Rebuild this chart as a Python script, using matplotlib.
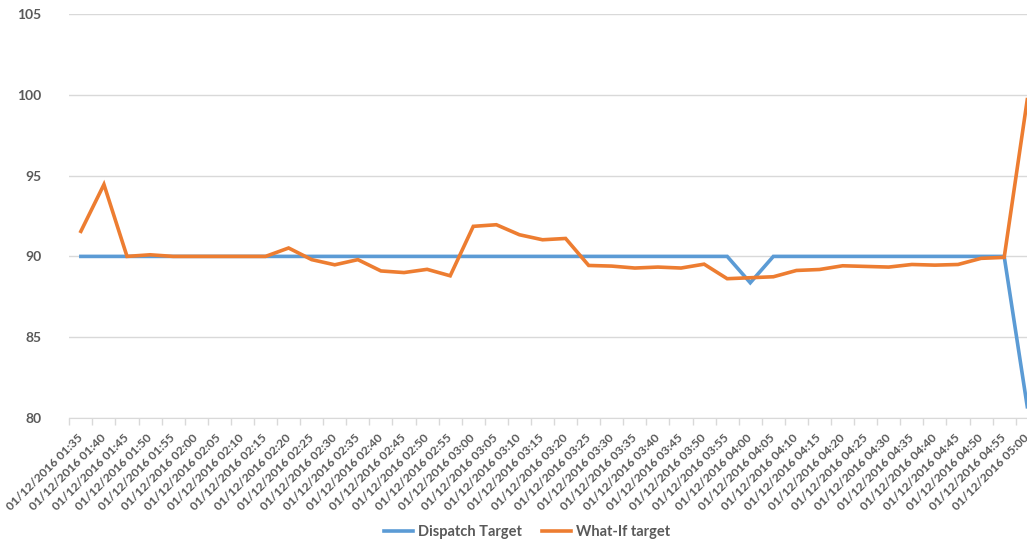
import matplotlib
matplotlib.use("Agg")
import matplotlib.pyplot as plt
import numpy as np

# time stamps (5 min steps)
times = ["01:35", "01:40", "01:45", "01:50", "01:55", "02:00", "02:05", "02:10",
         "02:15", "02:20", "02:25", "02:30", "02:35", "02:40", "02:45", "02:50",
         "02:55", "03:00", "03:05", "03:10", "03:15", "03:20", "03:25", "03:30",
         "03:35", "03:40", "03:45", "03:50", "03:55", "04:00", "04:05", "04:10",
         "04:15", "04:20", "04:25", "04:30", "04:35", "04:40", "04:45", "04:50",
         "04:55", "05:00"]
tick_labels = ["01/12/2016 " + t for t in times]

dispatch_target = [90, 90, 90, 90, 90, 90, 90, 90, 90, 90, 90, 90, 90, 90,
                   90, 90, 90, 90, 90, 90, 90, 90, 90, 90, 90, 90, 90, 90,
                   90, 88.37, 90, 90, 90, 90, 90, 90, 90, 90, 90, 90, 90, 80.7]
whatif_target = [91.55, 94.45, 90.0, 90.1, 90.0, 90.0, 90.0, 90.0, 90.0, 90.52,
                 89.8, 89.48, 89.8, 89.1, 89.0, 89.2, 88.8, 91.86, 91.96, 91.34,
                 91.03, 91.11, 89.44, 89.4, 89.28, 89.34, 89.28, 89.52, 88.62, 88.68,
                 88.74, 89.13, 89.19, 89.42, 89.38, 89.34, 89.5, 89.46, 89.5, 89.88,
                 89.94, 99.7]

plt.rcParams['font.family'] = ['Lato', 'DejaVu Sans']

fig = plt.figure(figsize=(10.27, 5.43), dpi=100)
# the original chart is cropped on the right, so the axes run past the edge
ax = fig.add_axes([0.0675, 0.2302, 0.944, 0.744])

x = np.arange(len(times))
ax.plot(x, dispatch_target, color="#5B9BD5", linewidth=2.6, label="Dispatch Target",
        solid_joinstyle="miter")
ax.plot(x, whatif_target, color="#ED7D31", linewidth=2.6, label="What-If target",
        solid_joinstyle="miter")

ax.set_xlim(-0.5, len(times) - 0.5)
ax.set_ylim(80, 105)
ax.set_yticks([80, 85, 90, 95, 100, 105])

# Excel style: labels on categories, tick marks between them
ax.set_xticks(x)
ax.set_xticklabels(tick_labels, rotation=45, ha='right', va='center',
                   rotation_mode='anchor', fontsize=8.8, color="#595959",
                   fontweight='bold')
ax.tick_params(axis='x', which='major', length=0, pad=13)
ax.set_xticks(np.arange(len(times) + 1) - 0.5, minor=True)
ax.tick_params(axis='x', which='minor', length=5, color="#D9D9D9", width=1)
ax.tick_params(axis='y', length=0, labelsize=10, labelcolor="#595959", pad=20)
for lbl in ax.get_yticklabels():
    lbl.set_fontweight('bold')

ax.yaxis.grid(True, color="#D9D9D9", linewidth=1)
ax.set_axisbelow(True)
for s in ['top', 'right', 'left']:
    ax.spines[s].set_visible(False)
ax.spines['bottom'].set_color("#D9D9D9")

ax.set_ylabel("MW", fontsize=11, color="#595959", fontweight='bold', labelpad=14)

fig.legend(loc='center', bbox_to_anchor=(527 / 1027, 1 - 532 / 543), ncol=2,
           frameon=False, handlelength=2, handletextpad=0.35, columnspacing=1.4,
           labelcolor="#595959", prop={'weight': 'bold', 'size': 10.5})

fig.savefig("out.png", dpi=100)
